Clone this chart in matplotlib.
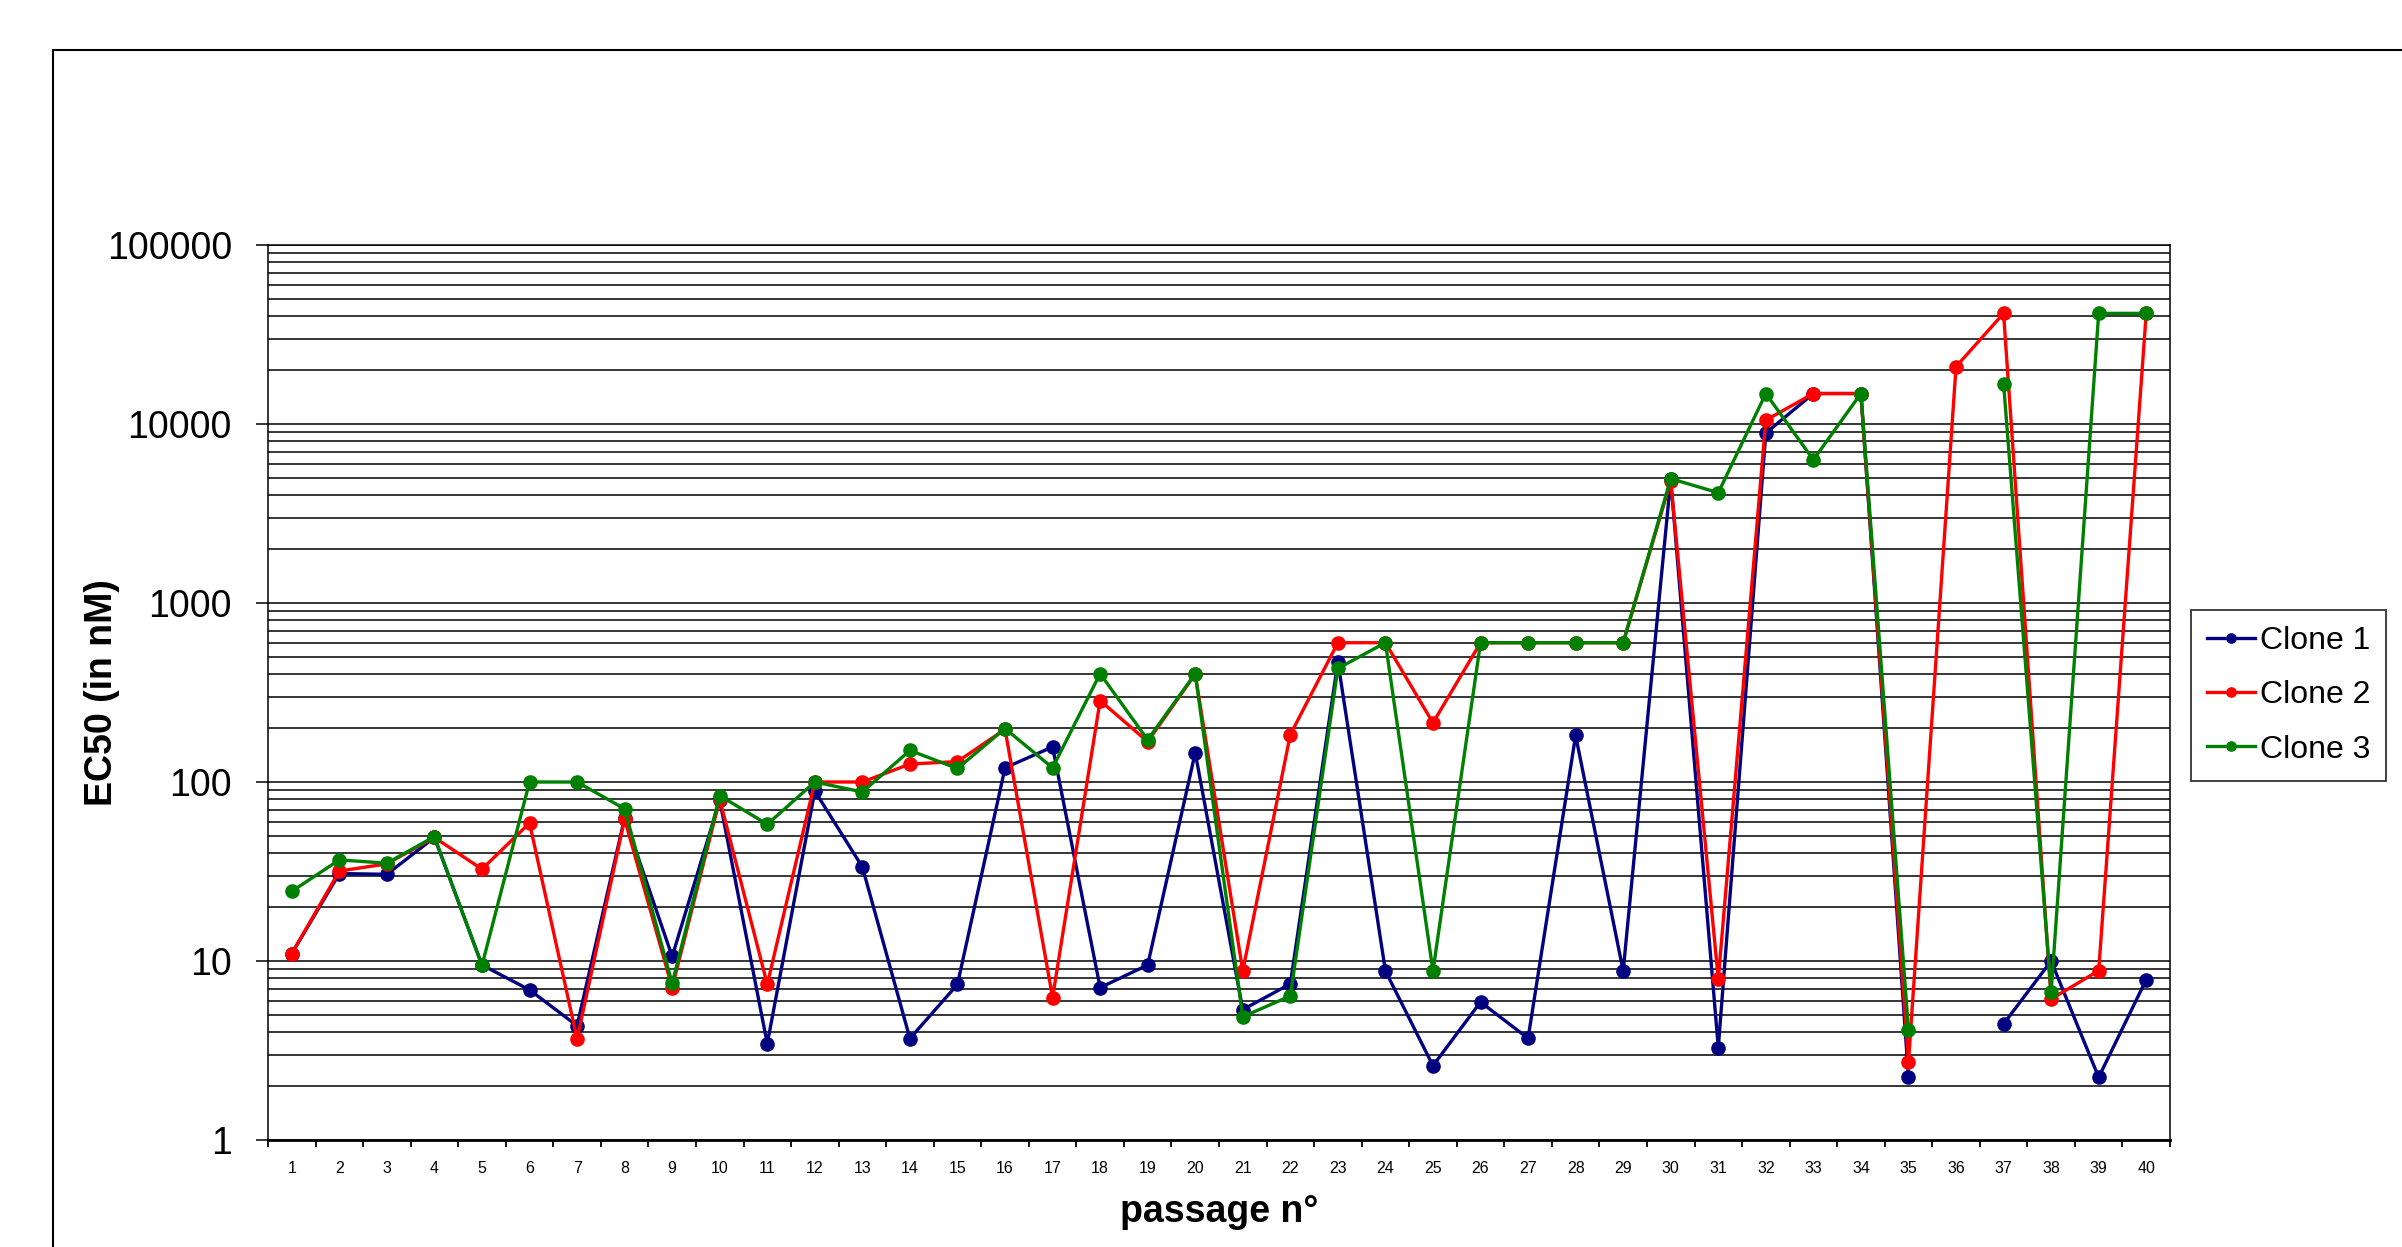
import numpy as np
import matplotlib
matplotlib.use("Agg")
import matplotlib.pyplot as plt
from matplotlib.ticker import LogLocator, NullFormatter
from matplotlib.patches import Rectangle

plt.rcParams['font.family'] = ['Liberation Sans', 'DejaVu Sans']

passages = list(range(1, 41))
clone1 = [11, 30.8, 30.5, 49, 9.5, 6.9, 4.35, 63, 10.6, 79,
          3.45, 89, 33.5, 3.69, 7.4, 120, 157, 7.1, 9.5, 146,
          5.35, 7.45, 470, 8.8, 2.6, 5.9, 3.7, 182, 8.8, 4900,
          3.28, 8900, 14800, 14800, 2.24, np.nan, 4.45, 10, 2.24, 7.87]
clone2 = [11, 31.8, 34.9, 49, 32.6, 59, 3.67, 62, 7.1, 80,
          7.4, 100, 100, 126, 130, 197, 6.25, 285, 168, 400,
          8.8, 184, 600, 600, 214, 600, 600, 600, 600, 4800,
          7.9, 10500, 14800, 14800, 2.72, 20900, 41500, 6.13, 8.83, 41500]
clone3 = [24.5, 36.7, 35.2, 49.5, 9.45, 100, 100, 70.8, 7.5, 84,
          58, 100, 88, 150, 119, 199, 120, 403, 172, 403,
          4.88, 6.38, 431, 600, 8.8, 600, 600, 600, 600, 4950,
          4130, 14800, 6310, 14800, 4.12, np.nan, 16800, 6.68, 41500, 41500]

series = [('Clone 1', clone1, '#000080'),
          ('Clone 2', clone2, '#FF0000'),
          ('Clone 3', clone3, '#008000')]

y_ticks = [1, 10, 100, 1000, 10000, 100000]

W, H = 2402, 1247
fig = plt.figure(figsize=(W / 100, H / 100), dpi=100)
ax = fig.add_axes([268 / W, 1 - 1140 / H, (2170 - 268) / W, (1140 - 245) / H])

for name, vals, col in series:
    ax.plot(passages, vals, '-o', color=col, lw=2.4, ms=9.5, label=name, zorder=3)

ax.set_yscale('log')
ax.set_ylim(1, 100000)
ax.set_yticks(y_ticks, labels=[str(v) for v in y_ticks])
ax.yaxis.set_minor_locator(LogLocator(base=10, subs=np.arange(2, 10)))
ax.yaxis.set_minor_formatter(NullFormatter())
ax.grid(True, which='both', axis='y', color='black', lw=1.1, zorder=1)
ax.tick_params(axis='y', which='major', length=9, width=1.1, labelsize=27, pad=17, direction='out')
ax.tick_params(axis='y', which='minor', length=0)

ax.set_xlim(0.5, 40.5)
ax.set_xticks(np.arange(0.5, 41, 1))
ax.set_xticklabels([])
ax.set_xticks(passages, labels=[str(p) for p in passages], minor=True)
ax.tick_params(axis='x', which='major', length=5, width=1.3, direction='out')
ax.tick_params(axis='x', which='minor', length=0, labelsize=11.5, pad=15)

for s in ax.spines.values():
    s.set_color('black')
    s.set_linewidth(1.1)
ax.spines['bottom'].set_linewidth(2)

ax.set_ylabel('EC50 (in nM)', fontsize=27, fontweight='bold')
ax.yaxis.set_label_coords(-0.078, 0.5)
ax.set_xlabel('passage n°', fontsize=27, fontweight='bold', labelpad=13)

leg = ax.legend(loc='upper left', bbox_to_anchor=(2191 / W, 1 - 610 / H),
                bbox_transform=fig.transFigure, fontsize=23, frameon=True,
                fancybox=False, edgecolor='black', handlelength=1.5,
                markerscale=0.7, labelspacing=0.76, borderpad=0.5,
                handletextpad=0.15, borderaxespad=0)
leg.get_frame().set_linewidth(1.3)

# outer chart frame (runs off the right and bottom edges)
fig.patches.append(Rectangle((53 / W, -0.1), 1.2, 1 - 50 / H + 0.1,
                             transform=fig.transFigure, fill=False,
                             edgecolor='black', lw=1.5))

fig.savefig('out.png', dpi=100)
